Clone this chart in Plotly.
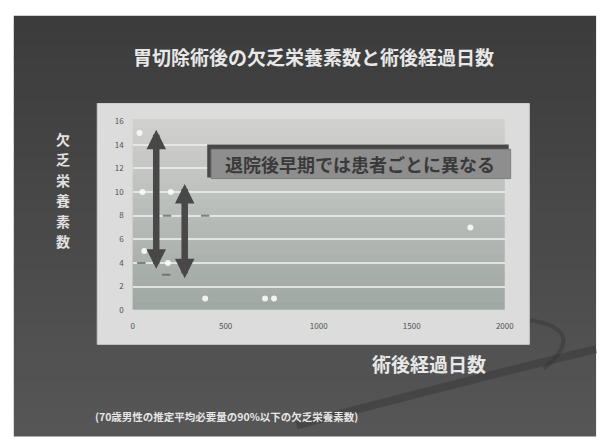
import plotly.graph_objects as go

W, H = 610, 441

# Days after surgery vs. number of deficient nutrients
days_white = [37, 53, 63, 205, 190, 390, 712, 760, 1815]
count_white = [15, 10, 5, 10, 4, 1, 1, 1, 7]
days_gray = [47, 185, 390, 180]
count_gray = [4, 8, 8, 3]

x_ticks = [0, 500, 1000, 1500, 2000]
y_ticks = [0, 2, 4, 6, 8, 10, 12, 14, 16]

# Double-headed arrows: (day, top, bottom)
spread_arrows = [(127, 15.4, 3.5), (280, 10.8, 2.7)]

title_text = "胃切除術後の欠乏栄養素数と術後経過日数"
y_title = "欠乏栄養素数"
x_title = "術後経過日数"
note_text = "退院後早期では患者ごとに異なる"
footer_text = "(70歳男性の推定平均必要量の90%以下の欠乏栄養素数)"

FONT = "Noto Sans CJK JP"


def px(x):
    return x / W


def py(y):
    return 1 - y / H


def lerp_color(c1, c2, t):
    return "rgb({},{},{})".format(*[round(a + (b - a) * t) for a, b in zip(c1, c2)])


shapes = []

# slide background with a soft vertical gradient
n = 30
top_c, bot_c = (60, 60, 60), (86, 86, 86)
for i in range(n):
    y0 = 10 + (H - 10) * i / n
    y1 = 10 + (H - 10) * (i + 1) / n
    shapes.append(dict(type="rect", xref="paper", yref="paper",
                       x0=px(12), x1=px(605), y0=py(y1 + 0.5), y1=py(y0),
                       fillcolor=lerp_color(top_c, bot_c, i / (n - 1)),
                       line=dict(width=0), layer="below"))

# decorative swooshes on the slide
shapes.append(dict(type="path", xref="paper", yref="paper",
                   path="M {},{} Q {},{} {},{}".format(px(605), py(352), px(470), py(385), px(300), py(430)),
                   line=dict(color="rgba(50,50,50,0.45)", width=8), layer="below"))
shapes.append(dict(type="path", xref="paper", yref="paper",
                   path="M {},{} Q {},{} {},{}".format(px(537), py(322), px(598), py(332), px(552), py(372)),
                   line=dict(color="rgba(50,50,50,0.4)", width=4), layer="below"))

# light chart panel
shapes.append(dict(type="rect", xref="paper", yref="paper",
                   x0=px(97), x1=px(537), y0=py(347), y1=py(100),
                   fillcolor="rgb(220,220,220)", line=dict(color="rgb(205,205,205)", width=1),
                   layer="below"))

# plot area gradient
n = 24
pa_top, pa_bot = (208, 208, 206), (160, 168, 164)
for i in range(n):
    y0 = 116 + (311 - 116) * i / n
    y1 = 116 + (311 - 116) * (i + 1) / n
    shapes.append(dict(type="rect", xref="paper", yref="paper",
                       x0=px(133), x1=px(512), y0=py(y1 + 0.5), y1=py(y0),
                       fillcolor=lerp_color(pa_top, pa_bot, i / (n - 1)),
                       line=dict(width=0), layer="below"))

# callout box with a dark drop edge
shapes.append(dict(type="rect", xref="paper", yref="paper",
                   x0=px(209), x1=px(516), y0=py(176), y1=py(142),
                   fillcolor="rgb(72,72,72)", line=dict(width=0)))
shapes.append(dict(type="rect", xref="paper", yref="paper",
                   x0=px(213), x1=px(518), y0=py(177), y1=py(147),
                   fillcolor="rgb(142,142,142)", line=dict(color="rgb(125,125,125)", width=1)))

fig = go.Figure()

fig.add_trace(go.Scatter(
    x=days_white, y=count_white, mode="markers",
    marker=dict(symbol="circle", size=6, color="rgba(250,250,250,0.9)",
                line=dict(width=0)),
    hoverinfo="skip", showlegend=False))
fig.add_trace(go.Scatter(
    x=days_gray, y=count_gray, mode="markers",
    marker=dict(symbol="line-ew", size=6, color="rgba(95,95,95,0.75)",
                line=dict(width=2, color="rgba(95,95,95,0.75)")),
    hoverinfo="skip", showlegend=False))

annotations = []
for d, top, bottom in spread_arrows:
    annotations.append(dict(x=d, y=bottom, ax=d, ay=top, xref="x", yref="y",
                            axref="x", ayref="y", text="", showarrow=True,
                            arrowhead=2, startarrowhead=2, arrowside="end+start",
                            arrowwidth=6.5, arrowsize=0.6, startarrowsize=0.6,
                            arrowcolor="rgb(72,72,72)"))

annotations += [
    dict(text="<b>" + title_text + "</b>", xref="paper", yref="paper", x=px(317), y=py(52),
         showarrow=False, font=dict(family=FONT, size=19, color="rgb(232,232,232)"),
         xanchor="center", yanchor="middle"),
    dict(text="<b>" + x_title + "</b>", xref="paper", yref="paper", x=px(435), y=py(367),
         showarrow=False, font=dict(family=FONT, size=19, color="rgb(232,232,232)"),
         xanchor="center", yanchor="middle"),
    dict(text="<b>" + note_text + "</b>", xref="paper", yref="paper", x=px(365), y=py(162),
         showarrow=False, font=dict(family=FONT, size=18, color="rgb(58,58,58)"),
         xanchor="center", yanchor="middle"),
    dict(text="<b>" + footer_text + "</b>", xref="paper", yref="paper", x=px(93), y=py(421),
         showarrow=False, font=dict(family=FONT, size=10.5, color="rgb(230,230,230)"),
         xanchor="left", yanchor="middle"),
]

# vertical axis title, one glyph per line
for i, ch in enumerate(y_title):
    annotations.append(dict(text="<b>" + ch + "</b>", xref="paper", yref="paper",
                            x=px(62), y=py(136 + i * 21), showarrow=False,
                            font=dict(family=FONT, size=14, color="rgb(225,225,225)"),
                            xanchor="center", yanchor="middle",
                            borderpad=0))

fig.update_layout(
    width=W, height=H,
    margin=dict(l=0, r=0, t=0, b=0),
    paper_bgcolor="white",
    plot_bgcolor="rgba(0,0,0,0)",
    shapes=shapes,
    annotations=annotations,
    showlegend=False,
    xaxis=dict(domain=[px(133), px(512)], range=[0, 2000], tickvals=x_ticks,
               showgrid=False, zeroline=False, showline=False, ticks="",
               tickfont=dict(family=FONT, size=8, color="rgb(80,80,80)"),
               ticklabelstandoff=10),
    yaxis=dict(domain=[py(312), py(118)], range=[0, 16], tickvals=y_ticks,
               showgrid=True, gridcolor="rgba(235,235,235,0.85)", gridwidth=1.5,
               zeroline=False, showline=False, ticks="",
               tickfont=dict(family=FONT, size=8, color="rgb(80,80,80)"),
               ticklabelstandoff=8),
)

fig.write_html("out.html")
